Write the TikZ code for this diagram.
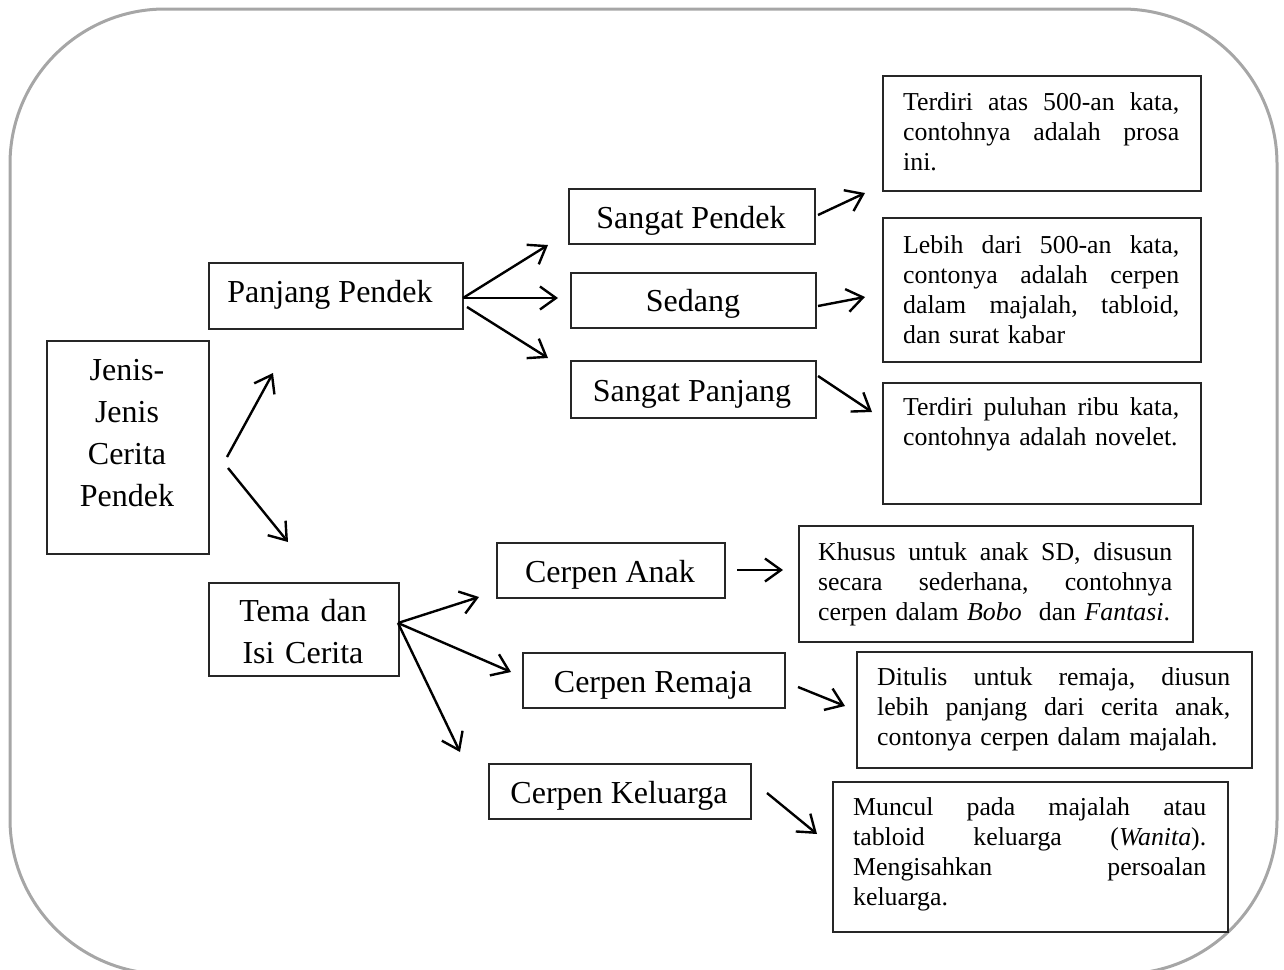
\documentclass[tikz,border=0pt]{standalone}
\usepackage{fontspec}
\setmainfont{Liberation Serif}
\usetikzlibrary{arrows.meta}
\tikzset{
  frame/.style={draw=black!35, line width=3pt, rounded corners=155pt},
  box/.style={draw=black!85, line width=1.5pt, anchor=north west, inner sep=0pt},
  big/.style={font=\fontsize{32}{42}\selectfont, inner sep=0pt, anchor=base},
  body/.style={font=\fontsize{25.8}{30}\selectfont, inner sep=0pt, anchor=base west, align=left},
  arr/.style={-{Straight Barb[length=16pt,width=23pt,line width=2.4pt]}, line width=2.4pt},
}
\newcommand{\jline}[2]{\leavevmode\hbox to #1{#2}}
\begin{document}
\begin{tikzpicture}[x=1pt,y=-1pt]
\useasboundingbox (0,0) rectangle (1284,969);
\begin{scope}
\clip (0,0) rectangle (1284,969);
\draw[frame] (10,9) rectangle (1277,974);
\end{scope}

% left column
\node[box, minimum width=162pt, minimum height=213pt] (jenis) at (46,340) {};
\node[big, align=center, text width=160pt] (jenist) at (127,380) {Jenis-\\Jenis\\Cerita\\Pendek};

\node[box, minimum width=254pt, minimum height=66pt] (pp) at (208,262) {};
\node[big] (ppt) at (330,302) {Panjang Pendek};

\node[box, minimum width=190pt, minimum height=93pt] (tema) at (208,582) {};
\node[big, align=center, text width=190pt] (temat) at (303,621) {Tema dan\\Isi Cerita};

% middle upper
\node[box, minimum width=246pt, minimum height=55pt] (sp) at (568,188) {};
\node[big] (spt) at (691,228) {Sangat Pendek};
\node[box, minimum width=245pt, minimum height=55pt] (sd) at (570,272) {};
\node[big] (sdt) at (693,311) {Sedang};
\node[box, minimum width=245pt, minimum height=57pt] (spj) at (570,360) {};
\node[big] (spjt) at (692,401) {Sangat Panjang};

% middle lower
\node[box, minimum width=228pt, minimum height=55pt] (ca) at (496,542) {};
\node[big] (cat) at (610,582) {Cerpen Anak};
\node[box, minimum width=262pt, minimum height=55pt] (cr) at (522,652) {};
\node[big] (crt) at (653,692) {Cerpen Remaja};
\node[box, minimum width=262pt, minimum height=55pt] (ck) at (488,763) {};
\node[big] (ckt) at (619,803) {Cerpen Keluarga};

% right upper
\node[box, minimum width=318pt, minimum height=115pt] (d1) at (882,75) {};
\node[body, text width=280pt] (d1t) at (903,110) {\jline{276pt}{Terdiri\hfill atas\hfill 500-an\hfill kata,}\\\jline{276pt}{contohnya\hfill adalah\hfill prosa}\\ini.};
\node[box, minimum width=318pt, minimum height=144pt] (d2) at (882,217) {};
\node[body, text width=280pt] (d2t) at (903,253) {\jline{276pt}{Lebih\hfill dari\hfill 500-an\hfill kata,}\\\jline{276pt}{contonya\hfill adalah\hfill cerpen}\\\jline{276pt}{dalam\hfill majalah,\hfill tabloid,}\\dan surat kabar};
\node[box, minimum width=318pt, minimum height=121pt] (d3) at (882,382) {};
\node[body, text width=290pt] (d3t) at (903,415) {\jline{276pt}{Terdiri\hfill puluhan\hfill ribu\hfill kata,}\\contohnya adalah novelet.};

% right lower
\node[box, minimum width=394pt, minimum height=116pt] (d4) at (798,525) {};
\node[body, text width=370pt] (d4t) at (818,560) {\jline{354pt}{Khusus\hfill untuk\hfill anak\hfill SD,\hfill disusun}\\\jline{354pt}{secara\hfill sederhana,\hfill contohnya}\\cerpen dalam \textit{Bobo}\ \ dan \textit{Fantasi}.};
\node[box, minimum width=395pt, minimum height=116pt] (d5) at (856,651) {};
\node[body, text width=370pt] (d5t) at (877,685) {\jline{353pt}{Ditulis\hfill untuk\hfill remaja,\hfill diusun}\\\jline{353pt}{lebih\hfill panjang\hfill dari\hfill cerita\hfill anak,}\\contonya cerpen dalam majalah.};
\node[box, minimum width=395pt, minimum height=150pt] (d6) at (832,781) {};
\node[body, text width=370pt] (d6t) at (853,815) {\jline{353pt}{Muncul\hfill pada\hfill majalah\hfill atau}\\\jline{353pt}{tabloid\hfill keluarga\hfill (\textit{Wanita}).}\\\jline{353pt}{Mengisahkan\hfill persoalan}\\keluarga.};

% arrow end points
\coordinate (a1s) at (227,457); \coordinate (a1e) at (273,373);
\coordinate (a2s) at (228,468); \coordinate (a2e) at (288,542);
\coordinate (a3s) at (463,298); \coordinate (a3e) at (548,245);
\coordinate (a4s) at (463,298); \coordinate (a4e) at (558,298);
\coordinate (a5s) at (467,307); \coordinate (a5e) at (548,358);
\coordinate (a6s) at (818,215); \coordinate (a6e) at (865,193);
\coordinate (a7s) at (818,306); \coordinate (a7e) at (865,297);
\coordinate (a8s) at (818,376); \coordinate (a8e) at (872,412);
\coordinate (a9s) at (398,623); \coordinate (a9e) at (479,597);
\coordinate (a10s) at (398,623); \coordinate (a10e) at (511,672);
\coordinate (a11s) at (398,623); \coordinate (a11e) at (460,752);
\coordinate (a12s) at (737,570); \coordinate (a12e) at (783,570);
\coordinate (a13s) at (798,687); \coordinate (a13e) at (845,706);
\coordinate (a14s) at (767,793); \coordinate (a14e) at (817,834);

\foreach \i in {1,...,14} \draw[arr] (a\i s) -- (a\i e);
\end{tikzpicture}
\end{document}
